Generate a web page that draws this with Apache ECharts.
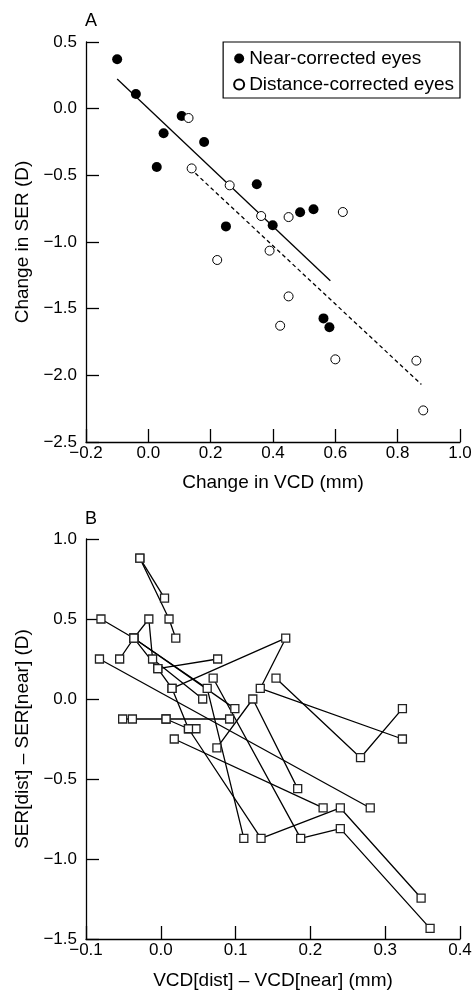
<!DOCTYPE html>
<html>
<head>
<meta charset="utf-8">
<script src="https://cdn.jsdelivr.net/npm/echarts@6/dist/echarts.min.js"></script>
<style>
html,body{margin:0;padding:0;background:#fff;}
#chart{width:476px;height:993px;}
</style>
</head>
<body>
<div id="chart"></div>
<script>
// ---- Panel A data ----
const nearX = [-0.10, -0.04, 0.107, 0.049, 0.179, 0.027, 0.348, 0.487, 0.53, 0.249, 0.399, 0.562, 0.581];
const nearY = [0.37, 0.11, -0.055, -0.185, -0.25, -0.438, -0.567, -0.777, -0.755, -0.883, -0.875, -1.573, -1.64];
const distX = [0.129, 0.139, 0.261, 0.362, 0.45, 0.624, 0.389, 0.221, 0.45, 0.423, 0.6, 0.86, 0.882];
const distY = [-0.07, -0.448, -0.575, -0.805, -0.813, -0.775, -1.065, -1.135, -1.408, -1.628, -1.88, -1.89, -2.263];
const fitNearX = [-0.1, 0.584];
const fitNearY = [0.222, -1.29];
const fitDistX = [0.151, 0.876];
const fitDistY = [-0.485, -2.068];
const xTicksA = [-0.2, 0.0, 0.2, 0.4, 0.6, 0.8, 1.0];
const yTicksA = [-2.5, -2.0, -1.5, -1.0, -0.5, 0.0, 0.5];

// ---- Panel B data: connected paths of [VCD diff, SER diff] ----
const pathsB = [
  [[-0.028,0.88],[0.005,0.63]],
  [[-0.028,0.88],[0.011,0.5],[0.02,0.38]],
  [[-0.055,0.25],[-0.036,0.38],[-0.016,0.5],[-0.011,0.25],[0.056,0.0]],
  [[-0.08,0.5],[-0.036,0.38],[0.099,-0.06]],
  [[-0.036,0.38],[0.062,0.066],[0.111,-0.871]],
  [[-0.036,0.38],[-0.004,0.19],[0.076,0.25]],
  [[-0.004,0.19],[0.015,0.066],[0.167,0.38],[0.133,0.066],[0.323,-0.25]],
  [[0.154,0.13],[0.267,-0.367],[0.323,-0.06]],
  [[0.075,-0.306],[0.123,0.0],[0.183,-0.56]],
  [[-0.051,-0.125],[-0.038,-0.125],[0.007,-0.125],[0.092,-0.125]],
  [[0.007,-0.125],[0.037,-0.186],[0.047,-0.186]],
  [[0.015,0.066],[0.037,-0.186],[0.134,-0.871],[0.24,-0.681],[0.348,-1.244]],
  [[-0.082,0.25],[0.28,-0.681]],
  [[0.018,-0.25],[0.217,-0.681]],
  [[0.07,0.13],[0.187,-0.871],[0.24,-0.81],[0.36,-1.434]]
];
const xTicksB = [-0.1, 0.0, 0.1, 0.2, 0.3, 0.4];
const yTicksB = [-1.5, -1.0, -0.5, 0.0, 0.5, 1.0];

const FONT = 'Liberation Sans';
const fmt = v => (v < -1e-9 ? '\u2212' : '') + Math.abs(v).toFixed(1);
const zip = (xs, ys) => xs.map((x, i) => [x, ys[i]]);

function axisCommon(isX, ticks) {
  return {
    type: 'value',
    min: ticks[0],
    max: ticks[ticks.length - 1],
    interval: Math.round((ticks[1] - ticks[0]) * 10) / 10,
    axisLine: { show: true, onZero: false, lineStyle: { color: '#000', width: 1.3 } },
    axisTick: { show: true, inside: true, length: 13, lineStyle: { color: '#000', width: 1.3 } },
    axisLabel: { show: true, formatter: fmt, color: '#000', fontFamily: FONT, fontSize: 17, margin: isX ? 3 : 9 },
    splitLine: { show: false },
    nameLocation: 'middle',
    nameTextStyle: { color: '#000', fontFamily: FONT, fontSize: 19 }
  };
}

const series = [];
// Panel A
series.push({
  type: 'line', xAxisIndex: 0, yAxisIndex: 0, data: zip(fitNearX, fitNearY),
  symbol: 'none', lineStyle: { color: '#000', width: 1.3 }, silent: true, z: 2
});
series.push({
  type: 'line', xAxisIndex: 0, yAxisIndex: 0, data: zip(fitDistX, fitDistY),
  symbol: 'none', lineStyle: { color: '#000', width: 1.3, type: [4, 3] }, silent: true, z: 2
});
series.push({
  name: 'Near-corrected eyes', type: 'scatter', xAxisIndex: 0, yAxisIndex: 0,
  data: zip(nearX, nearY), symbol: 'circle', symbolSize: 10,
  itemStyle: { color: '#000', opacity: 1 }, z: 3
});
series.push({
  name: 'Distance-corrected eyes', type: 'scatter', xAxisIndex: 0, yAxisIndex: 0,
  data: zip(distX, distY), symbol: 'circle', symbolSize: 9,
  itemStyle: { color: '#fff', borderColor: '#000', borderWidth: 1, opacity: 1 }, z: 3
});
// Panel B
pathsB.forEach(p => {
  series.push({
    type: 'line', xAxisIndex: 1, yAxisIndex: 1, data: p,
    symbol: 'none', lineStyle: { color: '#000', width: 1.3 }, silent: true, z: 2
  });
});
series.push({
  type: 'scatter', xAxisIndex: 1, yAxisIndex: 1,
  data: pathsB.flat(), symbol: 'rect', symbolSize: 8,
  itemStyle: { color: '#fff', borderColor: '#222', borderWidth: 1.3, opacity: 1 }, z: 4
});

const chart = echarts.init(document.getElementById('chart'), null, { renderer: 'canvas' });
chart.setOption({
  animation: false,
  backgroundColor: '#fff',
  textStyle: { fontFamily: FONT },
  grid: [
    { left: 86, right: 16, top: 42, height: 400 },
    { left: 86, right: 16, top: 539, height: 400 }
  ],
  xAxis: [
    Object.assign(axisCommon(true, xTicksA), { gridIndex: 0, name: 'Change in VCD (mm)', nameGap: 31 }),
    Object.assign(axisCommon(true, xTicksB), { gridIndex: 1, name: 'VCD[dist] \u2013 VCD[near] (mm)', nameGap: 32 })
  ],
  yAxis: [
    Object.assign(axisCommon(false, yTicksA), { gridIndex: 0, name: 'Change in SER (D)', nameGap: 45 }),
    Object.assign(axisCommon(false, yTicksB), { gridIndex: 1, name: 'SER[dist] \u2013 SER[near] (D)', nameGap: 45 })
  ],
  legend: {
    data: ['Near-corrected eyes', 'Distance-corrected eyes'],
    orient: 'vertical',
    right: 16, top: 42,
    padding: [7, 6, 4, 10],
    itemGap: 7,
    itemWidth: 10, itemHeight: 10,
    borderColor: '#000', borderWidth: 1.2,
    textStyle: { color: '#000', fontFamily: FONT, fontSize: 19, padding: [0, 0, 0, 0] },
    selectedMode: false
  },
  graphic: [
    { type: 'text', left: 85, top: 12, style: { text: 'A', font: '18px "Liberation Sans"', fill: '#000' } },
    { type: 'text', left: 85, top: 510, style: { text: 'B', font: '18px "Liberation Sans"', fill: '#000' } }
  ],
  series: series
});
</script>
</body>
</html>
